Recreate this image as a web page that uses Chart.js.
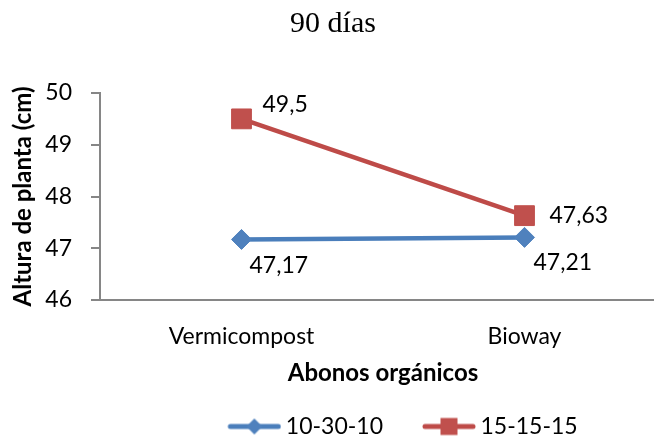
<!DOCTYPE html>
<html>
<head>
<meta charset="utf-8">
<script src="https://cdn.jsdelivr.net/npm/chart.js@4"></script>
<style>
  html, body { margin: 0; padding: 0; background: #fff; overflow: hidden; }
  #wrap { width: 654px; height: 438px; overflow: hidden; }
</style>
</head>
<body>
<div id="wrap"><canvas id="grafico" width="666" height="438"></canvas></div>
<script>
// dados
const categorias = ['Vermicompost', 'Bioway'];
const nomesSeries = ['10-30-10', '15-15-15'];
const valores103010 = [47.17, 47.21];
const valores151515 = [49.5, 47.63];
const ticksY = [46, 47, 48, 49, 50];

const AZUL_LINHA = '#4a7ebb', AZUL_MARCA = '#4f81bd';
const VERM_LINHA = '#be4b48', VERM_MARCA = '#c0504d';
const CINZA_EIXO = '#868686';
const FONTE = 'Lato';

// icone da legenda: linha com marcador no meio
function iconeLegenda(corLinha, corMarca, tipo) {
    const c = document.createElement('canvas');
    c.width = 100; c.height = 24;
    const ctx = c.getContext('2d');
    ctx.strokeStyle = corLinha;
    ctx.lineWidth = 5;
    ctx.lineCap = 'round';
    ctx.beginPath();
    ctx.moveTo(49, 12);
    ctx.lineTo(97, 12);
    ctx.stroke();
    ctx.fillStyle = corMarca;
    if (tipo === 'rectRot') {
        ctx.beginPath();
        ctx.moveTo(73, 4); ctx.lineTo(81, 12); ctx.lineTo(73, 20); ctx.lineTo(65, 12);
        ctx.closePath();
        ctx.fill();
    } else {
        ctx.fillRect(64.5, 3.5, 17, 17);
    }
    return c;
}
const icones = [
    iconeLegenda(AZUL_LINHA, AZUL_MARCA, 'rectRot'),
    iconeLegenda(VERM_LINHA, VERM_MARCA, 'rect')
];

// rotulos de dados (virgula decimal)
const rotulosPlugin = {
    id: 'rotulos',
    afterDatasetsDraw(chart, args, opts) {
        const ctx = chart.ctx;
        ctx.save();
        ctx.font = opts.tamanho + 'px ' + FONTE;
        ctx.fillStyle = '#000';
        ctx.textAlign = 'left';
        ctx.textBaseline = 'middle';
        chart.data.datasets.forEach((ds, i) => {
            const meta = chart.getDatasetMeta(i);
            meta.data.forEach((pt, j) => {
                const d = opts.deslocamentos[i][j];
                ctx.fillText(String(ds.data[j]).replace('.', ','), pt.x + d[0], pt.y + d[1]);
            });
        });
        ctx.restore();
    }
};

const grafico = new Chart(document.getElementById('grafico'), {
    type: 'line',
    data: {
        labels: categorias,
        datasets: [
            {
                label: nomesSeries[0],
                data: valores103010,
                borderColor: AZUL_LINHA,
                backgroundColor: AZUL_MARCA,
                borderWidth: 4.5,
                pointStyle: 'rectRot',
                pointRadius: 10,
                pointBorderWidth: 1,
                pointBorderColor: AZUL_MARCA,
                pointBackgroundColor: AZUL_MARCA,
                tension: 0
            },
            {
                label: nomesSeries[1],
                data: valores151515,
                borderColor: VERM_LINHA,
                backgroundColor: VERM_MARCA,
                borderWidth: 4.5,
                pointStyle: 'rect',
                pointRadius: 14,
                pointBorderWidth: 1,
                pointBorderColor: VERM_MARCA,
                pointBackgroundColor: VERM_MARCA,
                tension: 0
            }
        ]
    },
    options: {
        responsive: false,
        animation: false,
        devicePixelRatio: 1,
        layout: { autoPadding: false, padding: { bottom: -10 } },
        scales: {
            x: {
                grid: { display: false, drawTicks: false },
                border: { display: true, color: CINZA_EIXO, width: 2 },
                offset: true,
                afterFit: s => { s.height = 115; },
                ticks: { color: '#000', font: { family: FONTE, size: 23 }, padding: 23, maxRotation: 0 },
                title: {
                    display: true,
                    text: 'Abonos orgánicos',
                    color: '#000',
                    font: { family: FONTE, size: 24, weight: 'bold' },
                    padding: { top: 0, bottom: 27 }
                }
            },
            y: {
                min: ticksY[0],
                max: ticksY[ticksY.length - 1],
                afterBuildTicks: s => { s.ticks = ticksY.map(v => ({ value: v })); },
                afterFit: s => { s.width = 100; },
                grid: { display: true, drawOnChartArea: false, drawTicks: true, tickLength: 9, color: CINZA_EIXO, lineWidth: 2 },
                border: { display: true, color: CINZA_EIXO, width: 2 },
                ticks: { color: '#000', font: { family: FONTE, size: 23 }, padding: 19 },
                title: {
                    display: true,
                    text: 'Altura de planta (cm)',
                    color: '#000',
                    font: { family: FONTE, size: 24, weight: 'bold' },
                    padding: { top: 9, bottom: 0 }
                }
            }
        },
        plugins: {
            title: {
                display: true,
                text: '90 días',
                color: '#000',
                font: { family: 'Liberation Serif', size: 30, weight: 'normal' },
                padding: { top: 6, bottom: 51 }
            },
            legend: {
                position: 'bottom',
                fullSize: false,
                labels: {
                    usePointStyle: true,
                    pointStyleWidth: 86,
                    padding: 0,
                    color: '#000',
                    font: { family: FONTE, size: 23 },
                    generateLabels(chart) {
                        const itens = Chart.defaults.plugins.legend.labels.generateLabels(chart);
                        itens.forEach((it, i) => { it.pointStyle = icones[i]; });
                        return itens;
                    }
                }
            },
            tooltip: { enabled: false },
            rotulos: {
                tamanho: 23,
                deslocamentos: [
                    [[8, 26], [9, 25]],
                    [[21, -14], [25, 0]]
                ]
            }
        }
    },
    plugins: [rotulosPlugin]
});
</script>
</body>
</html>
